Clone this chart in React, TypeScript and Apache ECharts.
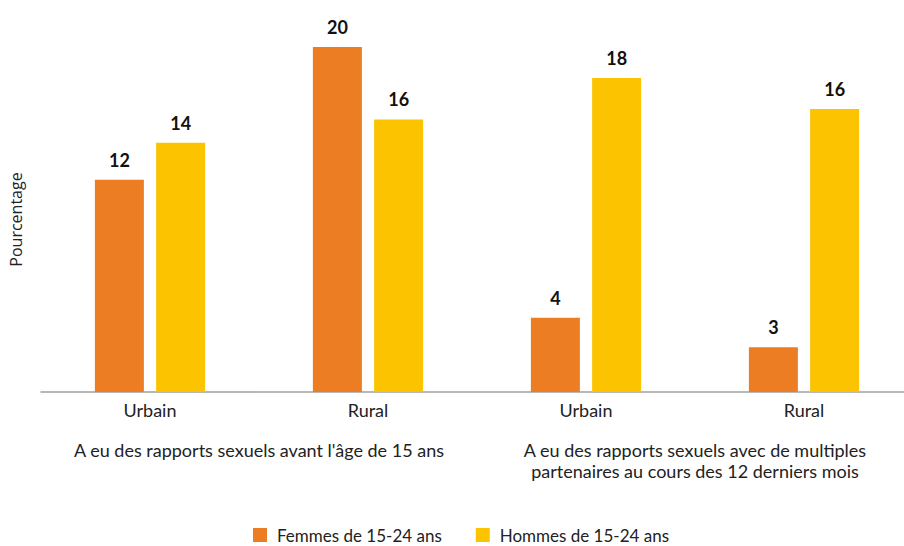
import React, { useEffect, useRef } from "react";
import * as echarts from "echarts";

const categories = ["Urbain", "Rural", "Urbain", "Rural"];
const groupLabels = [
  "A eu des rapports sexuels avant l'âge de 15 ans",
  "A eu des rapports sexuels avec de multiples\npartenaires au cours des 12 derniers mois",
];
const femmes = [12.3, 20, 4.3, 2.6];
const hommes = [14.45, 15.8, 18.2, 16.4];
const seriesNames = ["Femmes de 15-24 ans", "Hommes de 15-24 ans"];

const FONT = "Lato, 'Open Sans', sans-serif";

export default function App() {
  const ref = useRef<HTMLDivElement>(null);
  useEffect(() => {
    if (!ref.current) return;
    const chart = echarts.init(ref.current, null, { renderer: "svg" });
    const label = {
      show: true,
      position: "top",
      distance: 11,
      color: "#111",
      fontFamily: FONT,
      fontWeight: "bold",
      fontSize: 18,
      formatter: (p: any) => String(Math.round(p.value)),
    };
    chart.setOption({
      animation: false,
      grid: { left: 41, right: 0, top: 47, bottom: 154, containLabel: false },
      legend: {
        left: 248,
        top: 520,
        padding: [5, 5, 5, 5],
        itemWidth: 14,
        itemHeight: 14,
        itemGap: 34,
        icon: "rect",
        textStyle: { fontFamily: FONT, fontSize: 17, color: "#222", padding: [0, 0, 0, 5], lineHeight: 20 },
        data: seriesNames,
      },
      xAxis: [
        {
          type: "category",
          data: categories,
          position: "bottom",
          axisLine: { show: true, lineStyle: { color: "#a0a0a0", width: 1.5 } },
          axisTick: { show: false },
          axisLabel: { fontFamily: FONT, fontSize: 18, color: "#222", margin: 8, lineHeight: 20 },
        },
        {
          type: "category",
          data: groupLabels,
          position: "bottom",
          axisLine: { show: false },
          axisTick: { show: false },
          axisLabel: {
            fontFamily: FONT,
            fontSize: 18,
            color: "#222",
            margin: 47,
            lineHeight: 21,
            interval: 0,
          },
        },
      ],
      yAxis: {
        type: "value",
        min: 0,
        max: 20,
        name: "Pourcentage",
        nameLocation: "middle",
        nameGap: 17,
        nameTextStyle: { fontFamily: "'Open Sans', sans-serif", fontSize: 16, color: "#222" },
        axisLine: { show: false },
        axisTick: { show: false },
        axisLabel: { show: false },
        splitLine: { show: false },
      },
      series: [
        {
          name: seriesNames[0],
          type: "bar",
          data: femmes,
          barWidth: 49,
          barGap: "25%",
          itemStyle: { color: "#ED7D23" },
          label,
        },
        {
          name: seriesNames[1],
          type: "bar",
          data: hommes,
          barWidth: 49,
          barGap: "25%",
          itemStyle: { color: "#FBC300" },
          label,
        },
      ],
    });
    return () => chart.dispose();
  }, []);
  return (
    <div style={{ position: "absolute", left: 0, top: 0, width: 904, height: 546, overflow: "hidden" }}>
      <div ref={ref} style={{ width: 913, height: 546 }} />
    </div>
  );
}
